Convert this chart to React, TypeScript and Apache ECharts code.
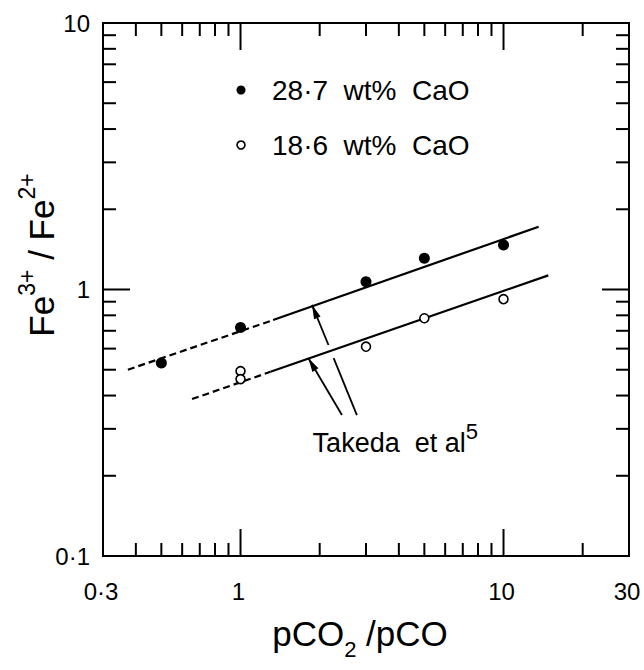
import React, { useEffect, useRef } from "react";
import * as echarts from "echarts";

// ---- data ----
const filledX = [0.5, 1, 3, 5, 10];
const filledY = [0.53, 0.72, 1.07, 1.31, 1.47];
const openX = [1, 1, 3, 5, 10];
const openY = [0.494, 0.461, 0.61, 0.78, 0.92];

// Takeda et al. lines (dashed extrapolation + solid part)
const upperDashed = [[0.373, 0.5], [1.33, 0.768]];
const upperSolid = [[1.33, 0.768], [13.6, 1.72]];
const lowerDashed = [[0.654, 0.388], [1.3, 0.491]];
const lowerSolid = [[1.3, 0.491], [14.8, 1.13]];

// arrows: [xFrom, yFrom, xTo, yTo, head]
const arrows = [
  [2.77, 0.338, 2.26, 0.553, 0],
  [2.16, 0.619, 1.87, 0.875, 1],
  [2.43, 0.338, 1.81, 0.553, 1],
];
const annotationPos = [1.88, 0.275];

const xMin = 0.3, xMax = 30, yMin = 0.1, yMax = 10;
const xTickLabelValues = [0.3, 1, 10, 30];
const xTickLabels = ["0·3", "1", "10", "30"];
const yTickLabelValues = [0.1, 1, 10];
const yTickLabels = ["0·1", "1", "10"];
const xMajorTicks = [1, 10];
const xMinorTicks = [0.4, 0.5, 0.6, 0.7, 0.8, 0.9, 2, 3, 4, 5, 6, 7, 8, 9, 20];
const yMajorTicks = [1];
const yMinorTicks = [0.2, 0.3, 0.4, 0.5, 0.6, 0.7, 0.8, 0.9, 2, 3, 4, 5, 6, 7, 8, 9];

const FONT = "Liberation Sans";

export default function App() {
  const ref = useRef<HTMLDivElement>(null);
  useEffect(() => {
    if (!ref.current) return;
    const chart = echarts.init(ref.current, undefined, { renderer: "svg" });

    const tickData: number[][] = [
      ...xMinorTicks.map((v) => [v, 1, 0, 0]),
      ...xMajorTicks.map((v) => [v, 1, 1, 0]),
      ...yMinorTicks.map((v) => [1, v, 0, 1]),
      ...yMajorTicks.map((v) => [1, v, 1, 1]),
    ];
    const labelData: any[] = [
      ...xTickLabelValues.map((v, i) => [v, 1, 0, i]),
      ...yTickLabelValues.map((v, i) => [1, v, 1, i]),
    ];
    const ls = { stroke: "#000", lineWidth: 2 };

    const option: any = {
      animation: false,
      backgroundColor: "#fff",
      grid: {
        left: 103, top: 23, width: 526, height: 533,
        show: true, borderColor: "#000", borderWidth: 2, backgroundColor: "transparent",
      },
      xAxis: {
        type: "log", logBase: 10, min: xMin, max: xMax,
        axisLine: { show: false }, axisTick: { show: false },
        axisLabel: { show: false }, splitLine: { show: false },
      },
      yAxis: {
        type: "log", logBase: 10, min: yMin, max: yMax,
        axisLine: { show: false }, axisTick: { show: false },
        axisLabel: { show: false }, splitLine: { show: false },
      },
      series: [
        {
          type: "custom", name: "ticks", silent: true,
          encode: { x: 0, y: 1 }, data: tickData, clip: false,
          renderItem: (params: any, api: any) => {
            const kind = api.value(3);
            const len = api.value(2) ? 27 : 13;
            if (kind === 0) {
              const v = api.value(0);
              const b = api.coord([v, yMin]);
              const t = api.coord([v, yMax]);
              return {
                type: "group",
                children: [
                  { type: "line", shape: { x1: b[0], y1: b[1], x2: b[0], y2: b[1] - len }, style: ls },
                  { type: "line", shape: { x1: t[0], y1: t[1], x2: t[0], y2: t[1] + len }, style: ls },
                ],
              };
            }
            const v = api.value(1);
            const l = api.coord([xMin, v]);
            const r = api.coord([xMax, v]);
            return {
              type: "group",
              children: [
                { type: "line", shape: { x1: l[0], y1: l[1], x2: l[0] + len, y2: l[1] }, style: ls },
                { type: "line", shape: { x1: r[0], y1: r[1], x2: r[0] - len, y2: r[1] }, style: ls },
              ],
            };
          },
        },
        {
          type: "custom", name: "ticklabels", silent: true,
          encode: { x: 0, y: 1 }, data: labelData, clip: false,
          renderItem: (params: any, api: any) => {
            const kind = api.value(2);
            const idx = api.value(3);
            if (kind === 0) {
              const p = api.coord([api.value(0), yMin]);
              return {
                type: "text", x: p[0] - 2, y: p[1] + 35,
                style: { text: xTickLabels[idx], fontSize: 24, fontFamily: FONT, fill: "#000", align: "center", verticalAlign: "middle" },
              };
            }
            const p = api.coord([xMin, api.value(1)]);
            return {
              type: "text", x: p[0] - 13, y: p[1],
              style: { text: yTickLabels[idx], fontSize: 24, fontFamily: FONT, fill: "#000", align: "right", verticalAlign: "middle" },
            };
          },
        },
        {
          type: "line", name: "upperDashed", data: upperDashed, showSymbol: false, silent: true,
          lineStyle: { color: "#000", width: 2.2, type: [7, 4] },
        },
        {
          type: "line", name: "upperSolid", data: upperSolid, showSymbol: false, silent: true,
          lineStyle: { color: "#000", width: 2.2 },
        },
        {
          type: "line", name: "lowerDashed", data: lowerDashed, showSymbol: false, silent: true,
          lineStyle: { color: "#000", width: 2.2, type: [7, 4] },
        },
        {
          type: "line", name: "lowerSolid", data: lowerSolid, showSymbol: false, silent: true,
          lineStyle: { color: "#000", width: 2.2 },
        },
        {
          type: "custom", name: "arrows", silent: true,
          encode: { x: [0, 2], y: [1, 3] }, data: arrows, clip: false,
          renderItem: (params: any, api: any) => {
            const p1 = api.coord([api.value(0), api.value(1)]);
            const p2 = api.coord([api.value(2), api.value(3)]);
            const children: any[] = [
              { type: "line", shape: { x1: p1[0], y1: p1[1], x2: p2[0], y2: p2[1] }, style: { stroke: "#000", lineWidth: 1.8 } },
            ];
            if (api.value(4)) {
              const dx = p2[0] - p1[0], dy = p2[1] - p1[1];
              const d = Math.sqrt(dx * dx + dy * dy);
              const ux = dx / d, uy = dy / d;
              const nx = -uy, ny = ux;
              const bx = p2[0] - ux * 14, by = p2[1] - uy * 14;
              children.push({
                type: "polygon",
                shape: { points: [[p2[0], p2[1]], [bx + nx * 3.5, by + ny * 3.5], [bx - nx * 3.5, by - ny * 3.5]] },
                style: { fill: "#000" },
              });
            }
            return { type: "group", children };
          },
        },
        {
          type: "custom", name: "annotation", silent: true,
          encode: { x: 0, y: 1 }, data: [annotationPos], clip: false,
          renderItem: (params: any, api: any) => {
            const p = api.coord([api.value(0), api.value(1)]);
            return {
              type: "text", x: p[0], y: p[1],
              style: {
                text: "{b|Takeda  et al}{s|5}",
                align: "left", verticalAlign: "middle", fill: "#000",
                rich: {
                  b: { fontSize: 27, fontFamily: FONT, lineHeight: 36, verticalAlign: "bottom" },
                  s: { fontSize: 22, fontFamily: FONT, lineHeight: 22, verticalAlign: "top" },
                },
              },
            };
          },
        },
        {
          type: "scatter", name: "28·7 wt% CaO", symbol: "circle", symbolSize: 11,
          data: filledX.map((x, i) => [x, filledY[i]]),
          itemStyle: { color: "#000", opacity: 1 }, z: 5,
        },
        {
          type: "scatter", name: "18·6 wt% CaO", symbol: "circle", symbolSize: 9,
          data: openX.map((x, i) => [x, openY[i]]),
          itemStyle: { color: "#fff", borderColor: "#000", borderWidth: 1.6, opacity: 1 }, z: 5,
        },
      ],
      graphic: [
        { type: "circle", shape: { cx: 241, cy: 90, r: 4.5 }, style: { fill: "#000" } },
        { type: "circle", shape: { cx: 241, cy: 145, r: 4 }, style: { fill: "#fff", stroke: "#000", lineWidth: 1.6 } },
        {
          type: "text", x: 272, y: 90,
          style: { text: "28·7  wt%  CaO", fontSize: 28, fontFamily: FONT, fill: "#000", verticalAlign: "middle" },
        },
        {
          type: "text", x: 272, y: 145,
          style: { text: "18·6  wt%  CaO", fontSize: 28, fontFamily: FONT, fill: "#000", verticalAlign: "middle" },
        },
        {
          type: "text", x: 360, y: 638,
          style: {
            text: "{b|pCO}{s|2}{b| /pCO}", align: "center", verticalAlign: "middle", fill: "#000",
            rich: {
              b: { fontSize: 35, fontFamily: FONT, lineHeight: 44, verticalAlign: "top" },
              s: { fontSize: 22, fontFamily: FONT, lineHeight: 22, verticalAlign: "bottom" },
            },
          },
        },
        {
          type: "text", x: 37, y: 255, rotation: Math.PI / 2,
          style: {
            text: "{b|Fe}{s|3+}{b| / Fe}{s|2+}", align: "center", verticalAlign: "middle", fill: "#000",
            rich: {
              b: { fontSize: 35, fontFamily: FONT, lineHeight: 44, verticalAlign: "bottom" },
              s: { fontSize: 23, fontFamily: FONT, lineHeight: 23, verticalAlign: "top" },
            },
          },
        },
      ],
    };
    chart.setOption(option);
    return () => chart.dispose();
  }, []);
  return (
    <div
      ref={ref}
      style={{ position: "fixed", left: 0, top: 0, width: 644, height: 670, background: "#fff" }}
    />
  );
}
